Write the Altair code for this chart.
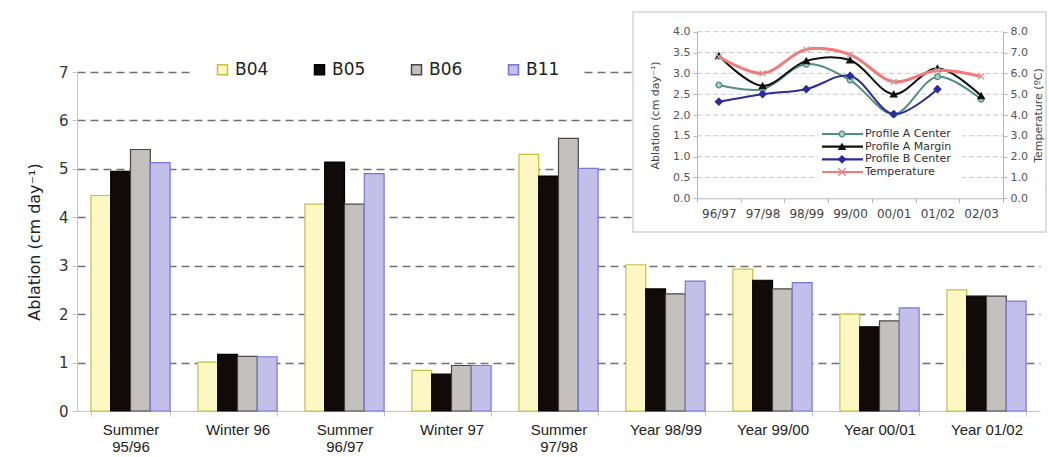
import altair as alt
import pandas as pd

# --- main bar chart: ablation rate per stake and period ---
periods = ["Summer\n95/96", "Winter 96", "Summer\n96/97", "Winter 97", "Summer\n97/98",
           "Year 98/99", "Year 99/00", "Year 00/01", "Year 01/02"]
stakes = ["B04", "B05", "B06", "B11"]
b04 = [4.45, 1.01, 4.27, 0.84, 5.30, 3.02, 2.93, 2.00, 2.50]
b05 = [4.95, 1.17, 5.14, 0.76, 4.85, 2.52, 2.70, 1.74, 2.37]
b06 = [5.40, 1.13, 4.27, 0.94, 5.63, 2.42, 2.52, 1.86, 2.37]
b11 = [5.13, 1.12, 4.90, 0.94, 5.01, 2.68, 2.65, 2.13, 2.27]
main_ticks = [0, 1, 2, 3, 4, 5, 6, 7]

# --- inset: mean ablation per profile and air temperature per year ---
seasons = ["96/97", "97/98", "98/99", "99/00", "00/01", "01/02", "02/03"]
profiles = ["Profile A Center", "Profile A Margin", "Profile B Center"]
a_center = [2.72, 2.62, 3.22, 2.84, 2.02, 2.92, 2.38]
a_margin = [3.42, 2.70, 3.30, 3.32, 2.50, 3.12, 2.46]
b_center = [2.32, 2.50, 2.62, 2.94, 2.02, 2.62, None]
temperature = [6.8, 6.0, 7.15, 6.9, 5.6, 6.15, 5.85]
inset_abl_ticks = [0.0, 0.5, 1.0, 1.5, 2.0, 2.5, 3.0, 3.5, 4.0]
inset_temp_ticks = [0, 1, 2, 3, 4, 5, 6, 7, 8]
inset_series = profiles + ["Temperature"]

W, H = 963, 339
FONT = "DejaVu Sans"
CAT_FONT = "Liberation Sans"

bars_df = pd.DataFrame(
    [{"period": p, "stake": s, "ablation": v}
     for s, vals in zip(stakes, [b04, b05, b06, b11])
     for p, v in zip(periods, vals)]
)

fill_scale = alt.Scale(domain=stakes, range=["#fdf8c3", "#120909", "#c3c0bd", "#c2bfe9"])
stroke_scale = alt.Scale(domain=stakes, range=["#c8bf45", "#000000", "#4b4545", "#7a76d6"])
stake_legend = alt.Legend(
    title=None, orient="none", legendX=114, legendY=-34, direction="horizontal",
    symbolType="square", symbolSize=100, symbolStrokeWidth=1.5,
    labelFont=FONT, labelFontSize=17, labelColor="#222", labelOffset=4,
    columnPadding=42, padding=23, fillColor="white",
)

bars = alt.Chart(bars_df).mark_bar(strokeWidth=1.2).encode(
    x=alt.X(
        "period:N", sort=periods,
        scale=alt.Scale(paddingInner=0.26, paddingOuter=0.13),
        axis=alt.Axis(
            title=None, labelAngle=0, labelExpr="split(datum.label, '\\n')",
            tickBand="extent", tickSize=5, tickColor="#c4c4c4", domainColor="#c4c4c4",
            labelFont=CAT_FONT, labelFontSize=15, labelLineHeight=17, labelPadding=6,
            labelColor="#222", grid=False,
        ),
    ),
    xOffset=alt.XOffset("stake:N", sort=stakes, scale=alt.Scale(paddingInner=0, paddingOuter=0)),
    y=alt.Y(
        "ablation:Q", scale=alt.Scale(domain=[0, 7], nice=False),
        axis=alt.Axis(
            orient="left", values=main_ticks, grid=True, gridDash=[8, 5], gridColor="#707070",
            gridWidth=1.6,
            gridOpacity={"condition": {"test": "datum.value === 0", "value": 0}, "value": 1},
            domainColor="#c4c4c4", tickColor="#c4c4c4", tickSize=5,
            labelFont=FONT, labelFontSize=15, labelColor="#333", labelPadding=4,
            title="Ablation (cm day⁻¹)", titleFont=FONT, titleFontSize=16,
            titleFontWeight="normal", titleColor="#222", titlePadding=16,
        ),
    ),
    fill=alt.Fill("stake:N", scale=fill_scale, legend=stake_legend),
    stroke=alt.Stroke("stake:N", scale=stroke_scale, legend=stake_legend),
)

# --- inset panel ---
one = alt.Data(values=[{}])
frame = alt.Chart(one).mark_rect(fill="white", stroke="#d4d4d4", strokeWidth=1.5).encode(
    x=alt.value(556), x2=alt.value(969), y=alt.value(-60), y2=alt.value(160)
)

IX = [620, 926]
IY = [126.3, -40.3]
IY_MID = (IY[0] + IY[1]) / 2
inset_x = alt.Scale(type="band", domain=seasons, range=IX, paddingInner=0, paddingOuter=0)
abl_scale = alt.Scale(domain=[0, 4], range=IY, nice=False, zero=False)
temp_scale = alt.Scale(domain=[0, 8], range=IY, nice=False, zero=False)

grid_df = pd.DataFrame({"v": inset_abl_ticks[1:]})
inset_grid = alt.Chart(grid_df).mark_rule(strokeDash=[5, 3], color="#c8c8c8", strokeWidth=1).encode(
    y=alt.Y("v:Q", scale=abl_scale, axis=None),
    x=alt.value(IX[0]), x2=alt.value(IX[1]),
)

abl_rows = []
for name, vals in zip(profiles, [a_center, a_margin, b_center]):
    for s, v in zip(seasons, vals):
        if v is not None:
            abl_rows.append({"season": s, "series": name, "value": v})
abl_df = pd.DataFrame(abl_rows)

series_stroke = alt.Scale(domain=inset_series, range=["#4f8f82", "#111111", "#2b2b9e", "#f27a78"])
series_fill = alt.Scale(domain=inset_series, range=["#a8d2c7", "#111111", "#2b2b9e", "#f27a78"])
marker_stroke = alt.Scale(domain=inset_series, range=["#4f8f82", "#111111", "#2b2b9e", "#c9a0a0"])
series_shape = alt.Scale(domain=inset_series,
                         range=["circle", "triangle-up", "diamond", "M-1,-1L1,1M-1,1L1,-1"])
series_size = alt.Scale(domain=inset_series, range=[32, 55, 38, 36])

inset_x_axis = alt.Axis(
    orient="bottom", offset=IY[0] - H, title=None, labelAngle=0, tickBand="extent",
    tickSize=4, tickColor="#b5b5b5", domainColor="#b5b5b5",
    labelFont=FONT, labelFontSize=12, labelColor="#444", labelPadding=6, zindex=1, grid=False,
)
abl_axis = alt.Axis(
    orient="left", offset=-IX[0], values=inset_abl_ticks, format=".1f", grid=False,
    tickSize=4, tickColor="#b5b5b5", domainColor="#b5b5b5",
    labelFont=FONT, labelFontSize=11, labelColor="#555", labelPadding=3,
    title="Ablation (cm day⁻¹)", titleFont=FONT, titleFontSize=11, titleFontWeight="normal",
    titleColor="#444", titleAngle=270, titleAlign="center", titleBaseline="middle",
    titleX=-42, titleY=IY_MID, zindex=1,
)
temp_axis = alt.Axis(
    orient="right", offset=IX[1] - W, values=inset_temp_ticks, format=".1f", grid=False,
    tickSize=4, tickColor="#b5b5b5", domainColor="#b5b5b5",
    labelFont=FONT, labelFontSize=11, labelColor="#555", labelPadding=3,
    title="Temperature (ºC)", titleFont=FONT, titleFontSize=11, titleFontWeight="normal",
    titleColor="#444", titleAngle=270, titleAlign="center", titleBaseline="middle",
    titleX=35, titleY=IY_MID, zindex=1,
)

abl_base = alt.Chart(abl_df).encode(
    x=alt.X("season:N", sort=seasons, scale=inset_x, axis=inset_x_axis, bandPosition=0.5),
    y=alt.Y("value:Q", scale=abl_scale, axis=abl_axis),
)
abl_lines = abl_base.mark_line(interpolate="catmull-rom", strokeWidth=2).encode(
    stroke=alt.Stroke("series:N", scale=series_stroke, legend=None),
)
abl_points = abl_base.mark_point(strokeWidth=1.3, opacity=1, fillOpacity=1).encode(
    shape=alt.Shape("series:N", scale=series_shape, legend=None),
    fill=alt.Fill("series:N", scale=series_fill, legend=None),
    stroke=alt.Stroke("series:N", scale=marker_stroke, legend=None),
    size=alt.Size("series:N", scale=series_size, legend=None),
)
abl_layer = alt.layer(abl_lines, abl_points)

temp_df = pd.DataFrame({"season": seasons, "temp": temperature})
temp_base = alt.Chart(temp_df).encode(
    x=alt.X("season:N", sort=seasons, scale=inset_x, axis=None, bandPosition=0.5),
    y=alt.Y("temp:Q", scale=temp_scale, axis=temp_axis),
)
temp_line = temp_base.mark_line(interpolate="catmull-rom", strokeWidth=3, color="#f27a78")
temp_points = temp_base.mark_point(shape="M-1,-1L1,1M-1,1L1,-1", size=36, strokeWidth=1.3,
                                   color="#c9a0a0", opacity=1)
temp_layer = alt.layer(temp_line, temp_points)

# inset legend, drawn from the series names
leg_box = alt.Chart(one).mark_rect(fill="white").encode(
    x=alt.value(741), x2=alt.value(885), y=alt.value(55), y2=alt.value(109)
)
leg_df = pd.DataFrame({"series": inset_series})
leg_y = alt.Scale(type="point", domain=inset_series, range=[62, 100], padding=0)
leg_base = alt.Chart(leg_df).encode(y=alt.Y("series:N", scale=leg_y, axis=None))
leg_rule = leg_base.mark_rule(strokeWidth=2.2).encode(
    x=alt.value(745), x2=alt.value(786),
    stroke=alt.Stroke("series:N", scale=series_stroke, legend=None),
)
leg_pts = leg_base.mark_point(strokeWidth=1.3, opacity=1, fillOpacity=1).encode(
    x=alt.value(765),
    shape=alt.Shape("series:N", scale=series_shape, legend=None),
    fill=alt.Fill("series:N", scale=series_fill, legend=None),
    stroke=alt.Stroke("series:N", scale=marker_stroke, legend=None),
    size=alt.Size("series:N", scale=series_size, legend=None),
)
leg_txt = leg_base.mark_text(align="left", baseline="middle", font=FONT, fontSize=11,
                             color="#333").encode(x=alt.value(788), text="series:N")
leg_layer = alt.layer(leg_rule, leg_pts, leg_txt)

chart = alt.layer(
    bars, frame, inset_grid, abl_layer, temp_layer, leg_box, leg_layer
).resolve_scale(
    x="independent", y="independent", fill="independent", stroke="independent",
    shape="independent", size="independent",
).properties(
    width=W, height=H,
    autosize=alt.AutoSizeParams(type="none"),
    padding={"left": 77, "top": 72, "right": 9, "bottom": 46},
    background="white",
).configure_view(stroke=None)

chart.save("out.html", embed_options={"renderer": "svg", "actions": False})
